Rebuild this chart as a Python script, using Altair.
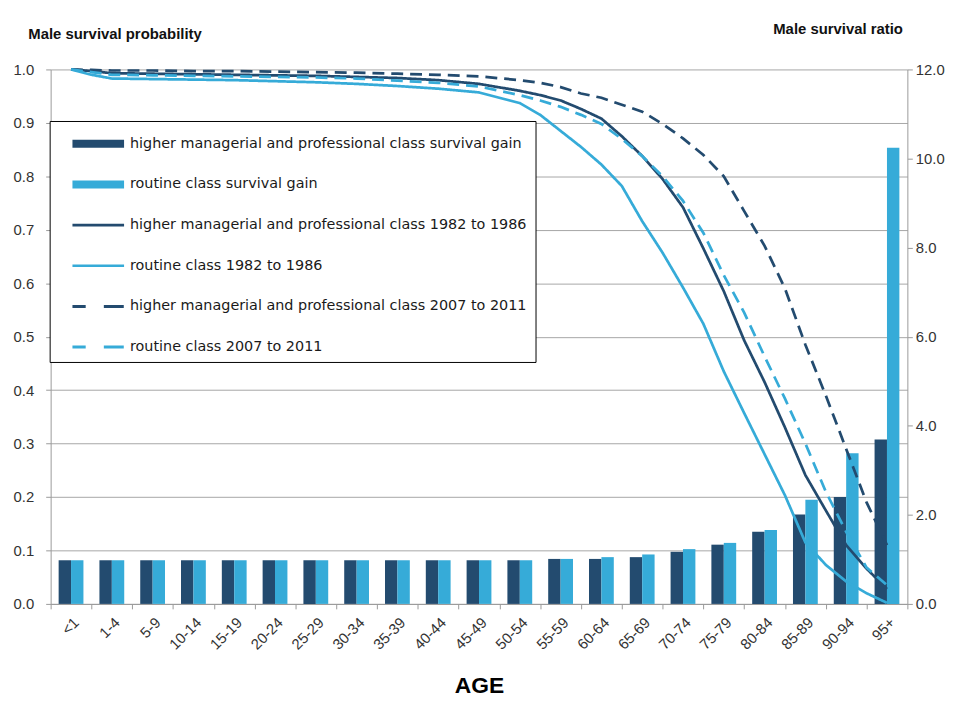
import altair as alt
import pandas as pd

# ---------------- data ----------------
categories = ["<1", "1-4", "5-9", "10-14", "15-19", "20-24", "25-29", "30-34", "35-39",
              "40-44", "45-49", "50-54", "55-59", "60-64", "65-69", "70-74", "75-79",
              "80-84", "85-89", "90-94", "95+"]

# survival gain ratio (right axis)
higher_gain = [0.98, 0.98, 0.98, 0.98, 0.98, 0.98, 0.98, 0.98, 0.98, 0.98, 0.98, 0.98,
               1.01, 1.01, 1.05, 1.17, 1.33, 1.62, 2.01, 2.40, 3.69]
routine_gain = [0.98, 0.98, 0.98, 0.98, 0.98, 0.98, 0.98, 0.98, 0.98, 0.98, 0.98, 0.98,
                1.01, 1.05, 1.11, 1.23, 1.37, 1.66, 2.34, 3.38, 10.24]

# survival probability curves (left axis); position in age-group units
positions = [0, 0.5, 1, 2, 3, 4, 5, 6, 7, 8, 9, 10, 11, 11.5, 12, 12.5, 13, 13.5, 14,
             14.5, 15, 15.5, 16, 16.5, 17, 17.5, 18, 18.5, 19, 19.5, 20]
higher_1982 = [1.0, 0.997, 0.993, 0.992, 0.991, 0.990, 0.989, 0.988, 0.986, 0.984, 0.980,
               0.973, 0.960, 0.952, 0.942, 0.926, 0.908, 0.875, 0.838, 0.795, 0.742,
               0.665, 0.585, 0.493, 0.415, 0.330, 0.241, 0.175, 0.110, 0.066, 0.028]
routine_1982 = [1.0, 0.990, 0.983, 0.982, 0.981, 0.980, 0.978, 0.976, 0.973, 0.969, 0.964,
                0.957, 0.937, 0.915, 0.885, 0.855, 0.822, 0.782, 0.716, 0.657, 0.592,
                0.524, 0.435, 0.357, 0.280, 0.203, 0.115, 0.073, 0.042, 0.020, 0.002]
higher_2007 = [1.0, 0.999, 0.998, 0.998, 0.997, 0.997, 0.996, 0.995, 0.994, 0.992, 0.990,
               0.987, 0.980, 0.975, 0.967, 0.955, 0.947, 0.934, 0.921, 0.898, 0.871,
               0.840, 0.800, 0.735, 0.670, 0.590, 0.485, 0.390, 0.290, 0.190, 0.110]
routine_2007 = [1.0, 0.995, 0.990, 0.989, 0.988, 0.987, 0.986, 0.985, 0.983, 0.979, 0.975,
                0.968, 0.952, 0.942, 0.930, 0.915, 0.898, 0.870, 0.838, 0.800, 0.754,
                0.694, 0.615, 0.545, 0.463, 0.384, 0.300, 0.210, 0.135, 0.068, 0.035]

legend_labels = [
    "higher managerial and professional class survival gain",
    "routine class survival gain",
    "higher managerial and professional class 1982 to 1986",
    "routine class 1982 to 1986",
    "higher managerial and professional class 2007 to 2011",
    "routine class 2007 to 2011",
]

DARK = "#234b6f"
LIGHT = "#36abd8"
FONT = "Liberation Sans"

# ---------------- tables ----------------
bar_rows = []
for c, h, r in zip(categories, higher_gain, routine_gain):
    bar_rows.append({"age": c, "group": "higher", "ratio": h})
    bar_rows.append({"age": c, "group": "routine", "ratio": r})
bars_df = pd.DataFrame(bar_rows)

line_names = ["h1982", "r1982", "h2007", "r2007"]
line_rows = []
for name, vals in zip(line_names, [higher_1982, routine_1982, higher_2007, routine_2007]):
    for p, v in zip(positions, vals):
        line_rows.append({"pos": p, "prob": v, "line": name})
lines_df = pd.DataFrame(line_rows)

legend_df = pd.DataFrame({"series": legend_labels})

# ---------------- layers ----------------
bars = alt.Chart(bars_df).mark_bar().encode(
    x=alt.X("age:N", sort=categories,
            scale=alt.Scale(paddingInner=0, paddingOuter=0),
            axis=alt.Axis(title="AGE", labelAngle=315, labelAlign="right",
                          labelBaseline="top", labelPadding=6, labelFontSize=15,
                          tickBand="extent", tickSize=5, grid=False,
                          titleFontSize=23, titleY=89, titleBaseline="alphabetic",
                          titleColor="#000000")),
    xOffset=alt.XOffset("group:N", scale=alt.Scale(domain=["higher", "routine"],
                                                    paddingInner=0, paddingOuter=0.645)),
    y=alt.Y("ratio:Q", scale=alt.Scale(domain=[0, 12], nice=False),
            axis=alt.Axis(orient="right", values=[0, 2, 4, 6, 8, 10, 12], format=".1f",
                          grid=False, title="Male survival ratio", titleAngle=0,
                          titleAlign="right", titleX=-5, titleY=-41,
                          titleBaseline="middle", titleFontSize=15, labelPadding=3)),
    color=alt.Color("group:N", scale=alt.Scale(domain=["higher", "routine"],
                                               range=[DARK, LIGHT]), legend=None),
)

lines = alt.Chart(lines_df).mark_line(strokeWidth=2.75).encode(
    x=alt.X("pos:Q", scale=alt.Scale(domain=[-0.5, 20.5], nice=False, zero=False),
            axis=None),
    y=alt.Y("prob:Q", scale=alt.Scale(domain=[0, 1], nice=False),
            axis=alt.Axis(orient="left",
                          values=[0, 0.1, 0.2, 0.3, 0.4, 0.5, 0.6, 0.7, 0.8, 0.9, 1.0],
                          format=".1f", grid=True, title="Male survival probability",
                          titleAngle=0, titleAlign="left", titleX=-23, titleY=-36,
                          titleBaseline="middle", titleFontSize=15, labelPadding=12)),
    color=alt.Color("line:N", scale=alt.Scale(domain=line_names,
                                              range=[DARK, LIGHT, DARK, LIGHT]),
                    legend=None),
    strokeDash=alt.StrokeDash("line:N", scale=alt.Scale(
        domain=line_names, range=[[1, 0], [1, 0], [12, 7], [12, 7]]), legend=None),
)

BAR_PATH = "M0,-0.27H3.47V0.27H0Z"
LINE_PATH = "M0,-0.085H3.47V0.085H0Z"
DASH_PATH = "M0,-0.1H0.89V0.1H0Z M2.11,-0.1H3.45V0.1H2.11Z"

leg = alt.Legend(title=None, orient="none", legendX=-1, legendY=52, symbolSize=900,
                 symbolStrokeWidth=0, symbolOpacity=1, labelFont="DejaVu Sans",
                 labelFontSize=14.5, labelColor="#1a1a1a", labelOffset=43,
                 rowPadding=19, padding=8, fillColor="white", strokeColor="black",
                 labelLimit=600)

legend_layer = alt.Chart(legend_df).mark_point(filled=True, opacity=0).encode(
    color=alt.Color("series:N", sort=legend_labels,
                    scale=alt.Scale(domain=legend_labels,
                                    range=[DARK, LIGHT, DARK, LIGHT, DARK, LIGHT]),
                    legend=leg),
    shape=alt.Shape("series:N", sort=legend_labels,
                    scale=alt.Scale(domain=legend_labels,
                                    range=[BAR_PATH, BAR_PATH, LINE_PATH, LINE_PATH,
                                           DASH_PATH, DASH_PATH]),
                    legend=leg),
)

chart = alt.layer(bars, lines, legend_layer).resolve_scale(
    x="independent", y="independent", color="independent", shape="independent",
    strokeDash="independent",
).properties(
    width=864, height=539,
    autosize=alt.AutoSizeParams(type="none"),
    padding={"left": 43, "top": 59, "right": 44, "bottom": 100},
).configure_view(stroke=None).configure_axis(
    labelFont=FONT, labelFontSize=15, labelColor="#333333",
    titleFont=FONT, titleFontWeight="bold", titleColor="#111111",
    domainColor="#9a9a9a", tickColor="#9a9a9a", gridColor="#a6a6a6",
    tickSize=5,
)

chart.save("out.html", embed_options={"renderer": "svg", "actions": False})
